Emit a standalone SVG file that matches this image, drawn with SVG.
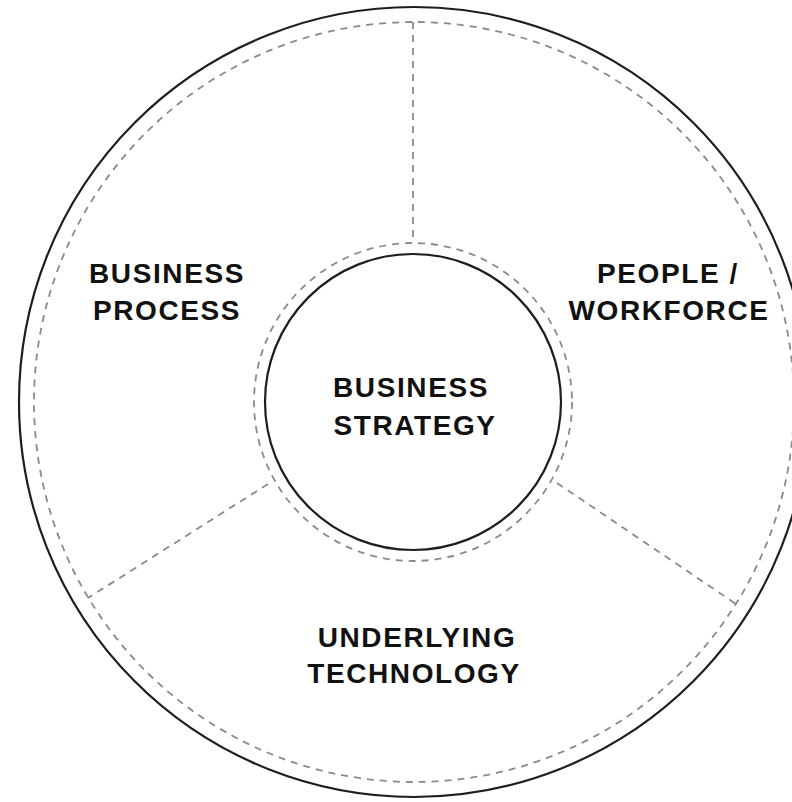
<svg xmlns="http://www.w3.org/2000/svg" width="792" height="802" viewBox="0 0 792 802">
  <style>
    .solid { fill: none; stroke: #1e1e1e; stroke-width: 2.2; }
    .dash { fill: none; stroke: #8a8a8a; stroke-width: 1.8; stroke-dasharray: 7 6; }
    .label { font-family: "Liberation Sans", Arial, sans-serif; font-weight: bold; font-size: 28px; letter-spacing: 1.6px; fill: #111; text-anchor: middle; }
  </style>
  <rect width="792" height="802" fill="#fff"/>

  <!-- outer ring -->
  <g id="outer-ring">
    <circle class="solid" cx="414" cy="402" r="395"/>
    <circle class="dash" cx="414" cy="402" r="380"/>
  </g>

  <!-- dashed dividers between the three outer sectors -->
  <g id="connectors">
    <line class="dash" x1="413" y1="22" x2="413" y2="243"/>
    <line class="dash" x1="268" y1="484" x2="88" y2="598"/>
    <line class="dash" x1="557" y1="483" x2="736" y2="604"/>
  </g>

  <g id="business-process">
    <text class="label" x="167" y="283">BUSINESS</text>
    <text class="label" x="167" y="320">PROCESS</text>
  </g>

  <g id="people-workforce">
    <text class="label" x="668" y="283">PEOPLE /</text>
    <text class="label" x="669" y="320">WORKFORCE</text>
  </g>

  <g id="underlying-technology">
    <text class="label" x="417" y="647">UNDERLYING</text>
    <text class="label" x="414" y="683">TECHNOLOGY</text>
  </g>

  <g id="business-strategy">
    <circle class="dash" cx="413" cy="402" r="159"/>
    <circle class="solid" cx="413" cy="402" r="148"/>
    <text class="label" x="411" y="397">BUSINESS</text>
    <text class="label" x="415" y="435">STRATEGY</text>
  </g>
</svg>
